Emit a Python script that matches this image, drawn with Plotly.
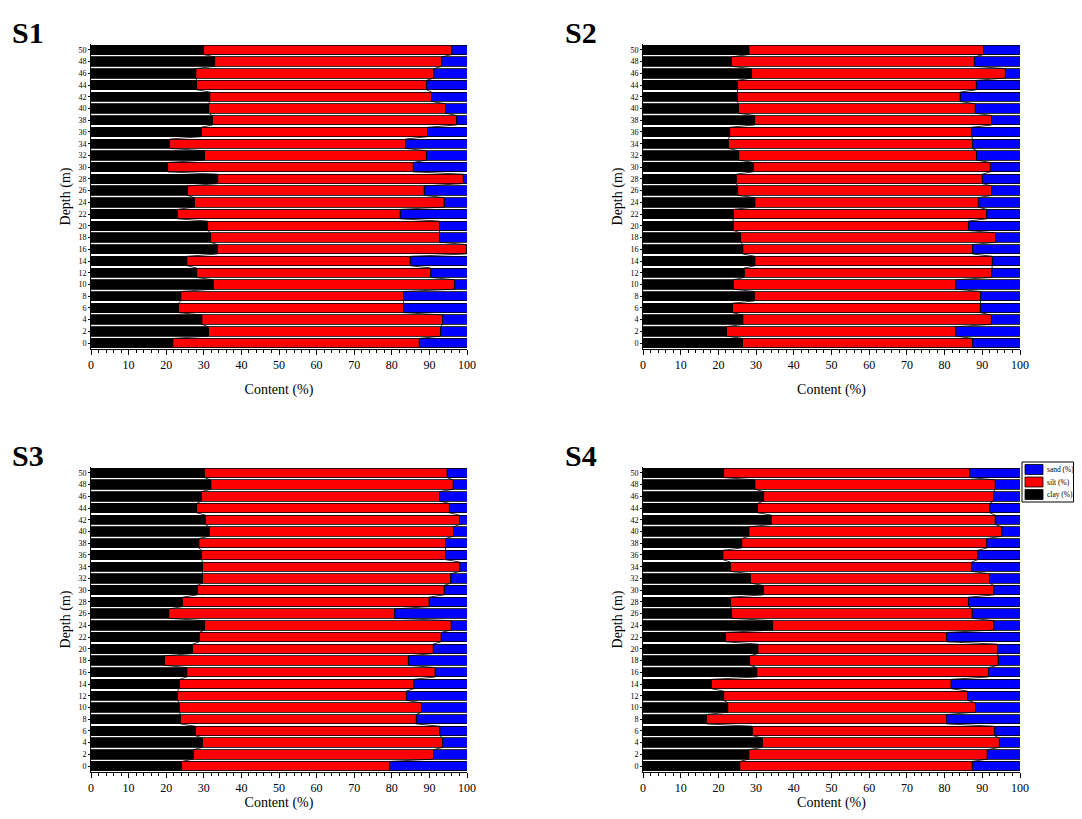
import plotly.graph_objects as go

depths = list(range(0, 52, 2))

# cumulative boundaries (clay end, silt end), depth 0..50
s1_clay = [21.8, 31.2, 29.5, 23.2, 23.9, 32.5, 28.1, 25.5, 33.6, 31.8, 31.0, 23.0, 27.5,
           25.6, 33.7, 20.4, 30.2, 20.9, 29.3, 32.3, 31.3, 31.6, 28.1, 27.9, 32.9, 29.9]
s1_silt_end = [87.3, 93.0, 93.5, 83.2, 83.1, 96.7, 90.4, 84.9, 99.8, 92.7, 92.7, 82.2, 93.9,
               88.6, 99.0, 85.7, 89.2, 83.7, 89.5, 97.3, 94.3, 90.6, 89.2, 91.2, 93.3, 96.0]

s2_clay = [26.4, 22.1, 26.5, 23.7, 29.5, 24.0, 26.8, 29.7, 26.5, 25.9, 23.9, 23.9, 29.7,
           25.1, 24.7, 29.2, 25.4, 22.6, 23.0, 29.6, 25.3, 25.0, 25.1, 28.8, 23.4, 28.1]
s2_silt_end = [87.5, 83.0, 92.4, 89.4, 89.6, 83.0, 92.5, 92.7, 87.4, 93.5, 86.3, 91.2, 88.9,
               92.5, 90.0, 92.1, 88.5, 87.4, 87.2, 92.5, 88.1, 84.1, 88.4, 96.1, 87.9, 90.4]

s3_clay = [24.1, 27.2, 29.6, 27.7, 23.8, 23.5, 23.0, 23.5, 25.5, 19.5, 27.0, 28.8, 30.2,
           20.7, 24.3, 28.2, 29.6, 29.7, 29.4, 28.7, 31.4, 30.4, 28.1, 29.3, 31.9, 30.1]
s3_silt_end = [79.5, 91.1, 93.5, 92.8, 86.5, 87.9, 83.9, 85.9, 91.5, 84.4, 91.0, 93.1, 95.8,
               80.8, 89.9, 93.9, 95.7, 98.1, 94.3, 94.3, 96.4, 98.0, 95.3, 92.7, 96.3, 94.7]

s4_clay = [25.7, 28.1, 31.6, 29.0, 16.8, 22.5, 21.4, 18.1, 30.2, 28.3, 30.5, 21.9, 34.4,
           23.5, 23.2, 31.9, 28.5, 23.1, 21.2, 26.2, 28.1, 34.1, 30.4, 32.0, 29.7, 21.4]
s4_silt_end = [87.3, 91.3, 94.5, 93.2, 80.5, 88.2, 86.1, 81.7, 91.6, 94.2, 94.0, 80.6, 93.1,
               87.3, 86.3, 93.1, 91.9, 87.2, 88.8, 91.2, 95.2, 93.4, 92.0, 93.0, 93.4, 86.7]

panels = [
    ("S1", s1_clay, s1_silt_end),
    ("S2", s2_clay, s2_silt_end),
    ("S3", s3_clay, s3_silt_end),
    ("S4", s4_clay, s4_silt_end),
]

legend_labels = ["sand (%)", "silt (%)", "clay (%)"]
legend_colors = ["#0000ff", "#ff0000", "black"]

# the page body has an 8 px margin; the figure is sized so the page needs no
# scrollbars and every target page position is shifted by 8 px
OFF = 8
W, H = 1082 - 2 * OFF, 819 - 2 * OFF
FONT = "Liberation Serif, Times New Roman, serif"
BAR_W = 1.6


def px(x):
    return (x - OFF) / W


def py(y):
    return 1 - (y - OFF) / H


xdoms = [(px(91), px(467)), (px(643), px(1020))]
ydoms = [(py(349), py(44)), (py(772), py(467))]

fig = go.Figure()
title_pos = [(10, 32), (563, 32), (10, 455), (563, 455)]

for i, (name, clay, silt_end) in enumerate(panels):
    ax = "" if i == 0 else str(i + 1)
    xref, yref = "x" + ax, "y" + ax
    silt = [round(s - c, 2) for c, s in zip(clay, silt_end)]
    sand = [round(100 - s, 2) for s in silt_end]
    for label, vals, col in [("clay (%)", clay, "black"),
                             ("silt (%)", silt, "#ff0000"),
                             ("sand (%)", sand, "#0000ff")]:
        fig.add_trace(go.Bar(
            y=depths, x=vals, orientation="h", width=BAR_W, name=label,
            marker=dict(color=col, line=dict(color="black", width=0.8)),
            showlegend=False, xaxis=xref, yaxis=yref))
    # connecting lines between bar ends (Origin style)
    for bound in (clay, silt_end):
        xs, ys = [], []
        for d, v in sorted(zip(depths, bound), reverse=True):
            xs += [v, v]
            ys += [d + BAR_W / 2, d - BAR_W / 2]
        fig.add_trace(go.Scatter(x=xs, y=ys, mode="lines",
                                 line=dict(color="black", width=0.8),
                                 showlegend=False, hoverinfo="skip",
                                 xaxis=xref, yaxis=yref))
    col_i, row_i = i % 2, i // 2
    xd, yd = xdoms[col_i], ydoms[row_i]
    fig.layout["xaxis" + ax] = dict(
        domain=list(xd), anchor=yref, range=[0, 100], tickmode="array",
        tickvals=list(range(0, 101, 10)), ticks="outside", ticklen=5,
        tickcolor="black", showline=True, linecolor="black", linewidth=1,
        showgrid=False, zeroline=False, automargin=False,
        minor=dict(tickmode="array", tickvals=list(range(0, 101, 2)),
                   ticks="outside", ticklen=3, tickcolor="black"),
        tickfont=dict(family=FONT, size=12, color="black"),
        title=dict(text="Content (%)", font=dict(family=FONT, size=14, color="black"),
                   standoff=12),
    )
    fig.layout["yaxis" + ax] = dict(
        domain=list(yd), anchor=xref, range=[-1, 51], tickmode="array",
        tickvals=depths, ticks="outside", ticklen=2, tickcolor="black",
        showline=True, linecolor="black", linewidth=1, showgrid=False,
        zeroline=False, automargin=False,
        tickfont=dict(family=FONT, size=8, color="black"),
        title=dict(text="Depth (m)", font=dict(family=FONT, size=14, color="black"),
                   standoff=4),
    )
    tx, ty = title_pos[i]
    fig.add_annotation(text="<b>%s</b>" % name, xref="paper", yref="paper",
                       x=px(tx), y=py(ty), xanchor="left", yanchor="middle",
                       showarrow=False,
                       font=dict(family=FONT, size=30, color="black"))

# legend box drawn next to S4 (as in the original figure)
fig.add_shape(type="rect", xref="paper", yref="paper",
              x0=px(1022), x1=px(1073.5), y0=py(502), y1=py(462),
              line=dict(color="black", width=1), fillcolor="white")
for k, (lab, col) in enumerate(zip(legend_labels, legend_colors)):
    top = 464.5 + k * 12.5
    fig.add_shape(type="rect", xref="paper", yref="paper",
                  x0=px(1025), x1=px(1043), y0=py(top + 10), y1=py(top),
                  line=dict(color="black", width=0.8), fillcolor=col)
    fig.add_annotation(text=lab, xref="paper", yref="paper",
                       x=px(1044.5), y=py(top + 5), xanchor="left", yanchor="middle",
                       showarrow=False, xshift=0,
                       font=dict(family=FONT, size=7.5, color="black"))

fig.update_layout(
    width=W, height=H, barmode="stack", bargap=0.2,
    margin=dict(l=0, r=0, t=0, b=0, autoexpand=False),
    paper_bgcolor="white", plot_bgcolor="white", showlegend=False,
)

fig.write_html("out.html")
